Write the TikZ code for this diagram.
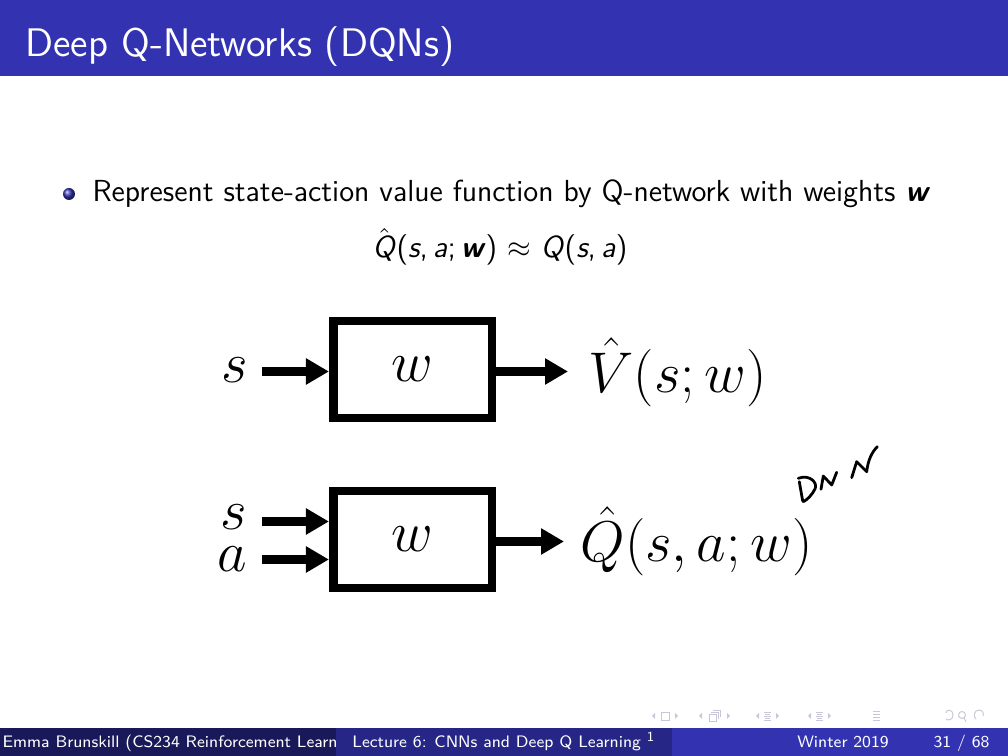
\documentclass[tikz,border=0pt]{standalone}
\usepackage{amsmath}
\usepackage{fontspec}
\usetikzlibrary{arrows.meta}
\definecolor{bstruct}{rgb}{0.2,0.2,0.7}
\definecolor{footA}{rgb}{0.1,0.1,0.35}
\definecolor{footB}{rgb}{0.15,0.15,0.525}
\definecolor{navgray}{rgb}{0.78,0.78,0.85}
\newcommand{\sfs}[1]{\textsf{\slshape #1}}
\newcommand{\sfbs}[1]{\textsf{\bfseries\slshape #1}}
\tikzset{
  box/.style={draw, line width=3.1pt, minimum width=57.4pt, minimum height=34.9pt, inner sep=0pt, font=\fontsize{20}{24}\selectfont},
  arr/.style={line width=3.1pt, -{Triangle[length=8.3pt,width=9pt]}},
  dlabel/.style={inner sep=0pt, font=\fontsize{20}{24}\selectfont},
  hand/.style={line width=1pt, line cap=round, line join=round},
  nav/.style={navgray, line width=0.35pt},
  foottext/.style={text=white, inner sep=0pt, font=\fontsize{6}{7}\selectfont\sffamily}
}
\begin{document}
\begin{tikzpicture}[x=0.3612pt,y=-0.3612pt]
\useasboundingbox (0,0) rectangle (1008,756);
% title bar
\fill[bstruct] (0,0) rectangle (1008,76);
\node[anchor=base west, text=white, inner sep=0pt, font=\fontsize{14.4}{17}\selectfont\sffamily] (title) at (25,57) {Deep Q-Networks (DQNs)};
% bullet
\shade[ball color=bstruct] (69,194) circle (6);
\node[anchor=base west, inner sep=0pt, font=\fontsize{11}{13.6}\selectfont\sffamily] (item) at (92,202) {Represent state-action value function by Q-network with weights \sfbs{w}};
\node[anchor=base, inner sep=0pt, font=\fontsize{11}{13.6}\selectfont\sffamily] (formula) at (500,258) {$\hat{\text{\sfs{Q}}}$(\sfs{s},\,\sfs{a};\,\sfbs{w}) $\approx$ \sfs{Q}(\sfs{s},\,\sfs{a})};
% first network
\node[box] (b1) at (412.7,369.5) {$w$};
\node[dlabel] (s1) at (235,370) {$s$};
\coordinate (t1) at (262,371.5);
\draw[arr] (t1) -- (t1 -| b1.west);
\coordinate (o1) at (568,371.5);
\draw[arr] (b1.east |- o1) -- (o1);
\node[dlabel, anchor=west] (v1) at (588,372) {$\hat{V}(s;w)$};
% second network
\node[box] (b2) at (412.7,539.5) {$w$};
\node[dlabel] (s2) at (234,517) {$s$};
\node[dlabel] (a2) at (232,559) {$a$};
\coordinate (t2) at (262,521.5);
\coordinate (t3) at (262,559.5);
\draw[arr] (t2) -- (t2 -| b2.west);
\draw[arr] (t3) -- (t3 -| b2.west);
\coordinate (o2) at (564,541.5);
\draw[arr] (b2.east |- o2) -- (o2);
\node[dlabel, anchor=west] (q2) at (580,541) {$\hat{Q}(s,a;w)$};
% handwritten DNN
\draw[hand] (799.3,481.7) -- (802.7,501);
\draw[hand] (798.3,478.3) .. controls (810,474) and (818,483) .. (815,489) .. controls (812,495) and (807,500) .. (803.3,501.7);
\draw[hand] (821,489.3) -- (823.3,476) -- (831.7,485) -- (836.7,472.3);
\draw[hand] (851.7,477.7) -- (856.7,461.7) -- (866.7,471.7) .. controls (868,460) and (872,452) .. (877.3,446.7);
% navigation symbols
\begin{scope}[nav]
\fill (655,713) -- (652,716) -- (655,719) -- cycle;
\draw (661,712) rectangle (669,720);
\fill (675,713) -- (678,716) -- (675,719) -- cycle;
\fill (702,713) -- (699,716) -- (702,719) -- cycle;
\draw (709,714) rectangle (716,721);
\draw (711,712) -- (718,712) -- (718,719);
\draw (713,710) -- (720,710) -- (720,717);
\fill (727,713) -- (730,716) -- (727,719) -- cycle;
\fill (759,713) -- (756,716) -- (759,719) -- cycle;
\draw (764,712) -- (771,712) (764,716) -- (771,716) (764,720) -- (771,720) (765,714) -- (770,714) (765,718) -- (770,718);
\fill (776,713) -- (779,716) -- (776,719) -- cycle;
\fill (811,713) -- (808,716) -- (811,719) -- cycle;
\draw (816,712) -- (823,712) (816,716) -- (823,716) (816,720) -- (823,720) (817,714) -- (822,714) (817,718) -- (822,718);
\fill (828,713) -- (831,716) -- (828,719) -- cycle;
\draw (873,711) -- (880,711) (873,714) -- (880,714) (873,717) -- (880,717) (873,720) -- (880,720);
\draw (946,713) .. controls (946,709) and (953,709) .. (953,715) .. controls (953,720) and (948,721) .. (946,719);
\draw (962,715) circle (3.5);
\draw (964,718) -- (966,722);
\draw (976,719) .. controls (973,717) and (974,710) .. (979,710) .. controls (983,710) and (984,714) .. (983,716);
\end{scope}
% footer
\fill[footA] (0,728) rectangle (336,756);
\fill[footB] (336,728) rectangle (672,756);
\fill[bstruct] (672,728) rectangle (1008,756);
\begin{scope}
\clip (0,728) rectangle (336,756);
\node[foottext, anchor=base west] (fauthor) at (2,748) {Emma Brunskill (CS234 Reinforcement Learning)};
\end{scope}
\node[foottext, anchor=base] (ftitle) at (504,748) {Lecture 6: CNNs and Deep Q Learning \textsuperscript{1}};
\node[foottext, anchor=base] (fdate) at (843,748) {Winter 2019};
\node[foottext, anchor=base east] (fpage) at (990,748) {31 / 68};
\end{tikzpicture}
\end{document}
